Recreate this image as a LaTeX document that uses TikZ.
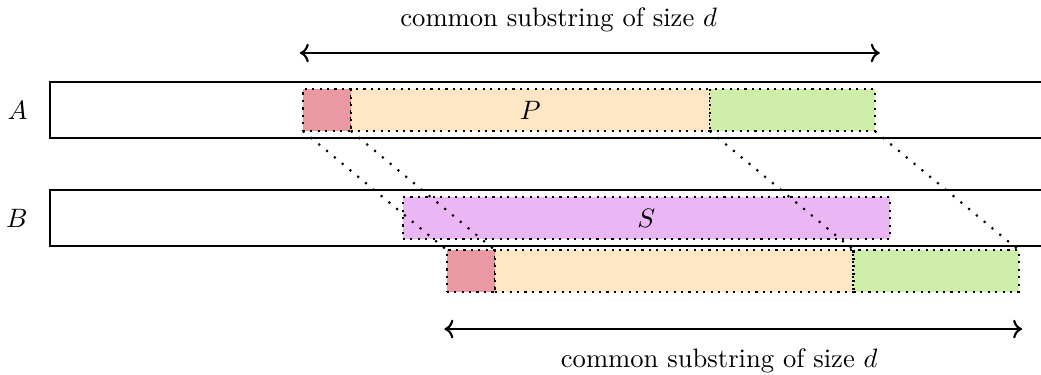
\documentclass[tikz,border=0pt]{standalone}
\usepackage{amsmath}
\usepackage{xcolor}
\usepackage{tikz}
\usetikzlibrary{arrows.meta, positioning}
\definecolor{rojo}{HTML}{EA99A2}
\definecolor{naranja}{HTML}{FFE6C4}
\definecolor{verde}{HTML}{CDEDA8}
\definecolor{lila}{HTML}{EAB7F4}
\tikzset{
  barra/.style={draw, thick, minimum height=0.74cm, inner sep=0pt, outer sep=0pt},
  trozo/.style={draw, thick, dotted, minimum height=0.555cm, inner sep=0pt, outer sep=0pt},
  guia/.style={thick, dash pattern=on 0.8pt off 3pt},
  flecha/.style={<->, thick},
}

\begin{document}
\begin{tikzpicture}
  \useasboundingbox (0,0) rectangle (13.75,4.94);
  \clip (0,0) rectangle (13.75,4.94);
  % cadenas
  \node[barra, minimum width=14cm, anchor=north west] (barA) at (0.66,3.857) {};
  \node[barra, minimum width=14cm, anchor=north west] (barB) at (0.66,2.431) {};
  \node[left=0.17cm of barA] (lA) {$A$};
  \node[left=0.17cm of barB] (lB) {$B$};
  % trozos de A
  \node[trozo, fill=rojo, minimum width=0.634cm, anchor=south west] (ar) at (4.00,3.21) {};
  \node[trozo, fill=naranja, minimum width=4.74cm, right=0pt of ar] (ap) {$P$};
  \node[trozo, fill=verde, minimum width=2.18cm, right=0pt of ap] (av) {};
  % S en B
  \node[trozo, fill=lila, minimum width=6.43cm, anchor=south west] (S) at (5.32,1.783) {$S$};
  % copia desplazada
  \node[trozo, fill=rojo, minimum width=0.634cm, anchor=south west] (br) at (5.90,1.083) {};
  \node[trozo, fill=naranja, minimum width=4.74cm, right=0pt of br] (bp) {};
  \node[trozo, fill=verde, minimum width=2.18cm, right=0pt of bp] (bv) {};
  \foreach \a/\b in {ar.south west/br.north west, ar.south east/br.north east,
                     av.south west/bv.north west, av.south east/bv.north east}
    \draw[guia] (\a) -- (\b);
  % medidas
  \coordinate (t1) at (3.96,4.24);
  \coordinate (t2) at (11.62,4.24);
  \draw[flecha] (t1) -- (t2);
  \node (tsup) at (7.38,4.672) {common substring of size $d$};
  \coordinate (b1) at (5.87,0.594);
  \coordinate (b2) at (13.50,0.594);
  \draw[flecha] (b1) -- (b2);
  \node (tinf) at (9.50,0.17) {common substring of size $d$};
\end{tikzpicture}
\end{document}
